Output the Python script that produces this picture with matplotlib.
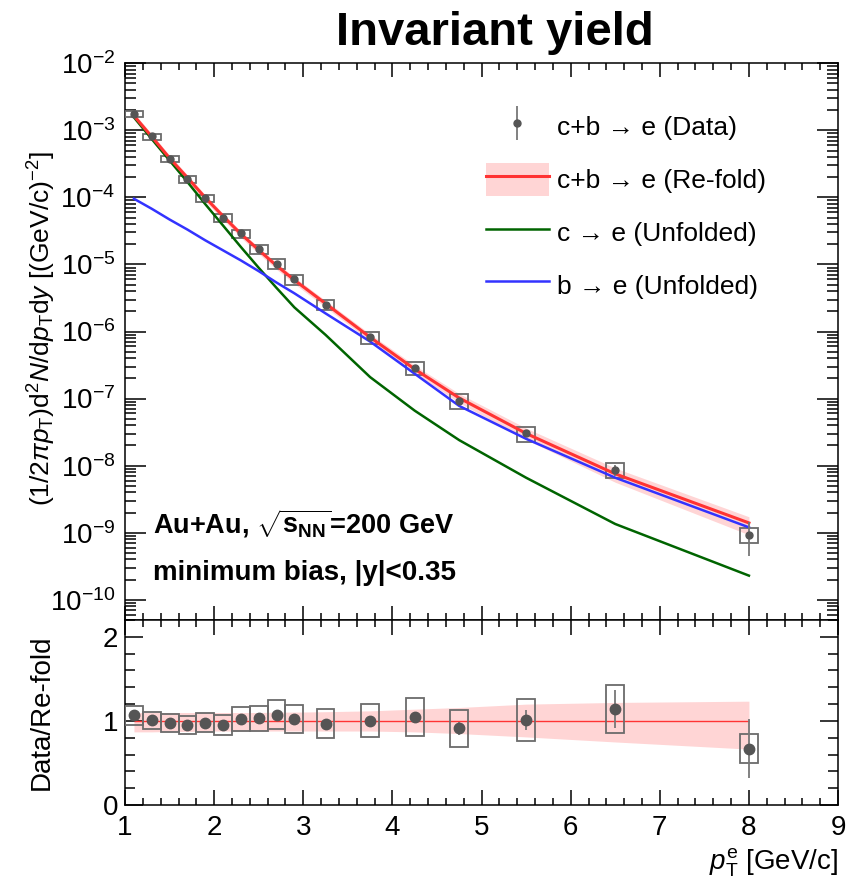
import numpy as np
import matplotlib
matplotlib.use("Agg")
import matplotlib.pyplot as plt
from matplotlib.patches import Patch
from matplotlib.lines import Line2D
from matplotlib.legend_handler import HandlerErrorbar
from matplotlib.ticker import LogLocator, FixedLocator, MultipleLocator, NullFormatter

plt.rcParams['font.family'] = ['Liberation Sans', 'DejaVu Sans']
plt.rcParams['mathtext.fontset'] = 'custom'
plt.rcParams['mathtext.rm'] = 'Liberation Sans'
plt.rcParams['mathtext.it'] = 'Liberation Sans:italic'
plt.rcParams['mathtext.bf'] = 'Liberation Sans:bold'

# pT bin centres (GeV/c)
pt = np.array([1.1, 1.3, 1.5, 1.7, 1.9, 2.1, 2.3, 2.5, 2.7, 2.9,
               3.25, 3.75, 4.25, 4.75, 5.5, 6.5, 8.0])

# c+b -> e data (invariant yield)
data = np.array([1.76e-3, 8.1e-4, 3.77e-4, 1.87e-4, 9.7e-5, 4.99e-5, 2.91e-5,
                 1.69e-5, 1.03e-5, 6.0e-6, 2.52e-6, 8.24e-7, 2.87e-7, 9.3e-8,
                 3.05e-8, 8.63e-9, 9.4e-10])
# relative stat. and syst. uncertainties
stat = np.array([0.02, 0.02, 0.02, 0.02, 0.02, 0.02, 0.02, 0.02, 0.02, 0.02,
                 0.03, 0.03, 0.03, 0.085, 0.118, 0.20, 0.52])
syst = np.array([0.105, 0.10, 0.107, 0.115, 0.117, 0.13, 0.138, 0.148, 0.159,
                 0.164, 0.178, 0.197, 0.218, 0.24, 0.25, 0.25, 0.25])

# re-folded c+b -> e and its band (relative)
refold = np.array([1.65e-3, 8.02e-4, 3.85e-4, 1.97e-4, 9.92e-5, 5.25e-5, 2.85e-5,
                   1.64e-5, 9.6e-6, 5.85e-6, 2.61e-6, 8.2e-7, 2.75e-7, 1.02e-7,
                   3.02e-8, 7.54e-9, 1.40e-9])
band_hi = np.array([1.10, 1.10, 1.10, 1.10, 1.10, 1.10, 1.10, 1.10, 1.105, 1.105,
                    1.11, 1.12, 1.14, 1.16, 1.20, 1.22, 1.235])
band_lo = np.array([0.87, 0.87, 0.875, 0.875, 0.88, 0.88, 0.88, 0.88, 0.88, 0.88,
                    0.88, 0.88, 0.87, 0.85, 0.81, 0.75, 0.665])

# unfolded c -> e and b -> e (log10 of yield)
log_c = np.array([-2.806, -3.13, -3.45, -3.77, -4.10, -4.42, -4.74, -5.05, -5.35,
                  -5.64, -6.05, -6.68, -7.18, -7.62, -8.18, -8.87, -9.64])
log_b = np.array([-4.02, -4.17, -4.33, -4.48, -4.64, -4.79, -4.94, -5.10, -5.27,
                  -5.43, -5.73, -6.15, -6.63, -7.11, -7.60, -8.18, -8.92])

decades = 10.0 ** np.arange(-10, -1)

ratio = data / refold

RED = '#ff3333'
GREEN = '#006400'
BLUE = '#3333ff'
PINK = '#ffd5d5'
GREY = '#555555'
BOXC = '#6b6b6b'

fig = plt.figure(figsize=(8.57, 8.80), dpi=100)
ax1 = fig.add_axes([0.1459, 0.2955, 0.8320, 0.6326])
ax2 = fig.add_axes([0.1459, 0.0852, 0.8320, 0.2102])

# ---- top panel
ax1.fill_between(pt, refold * band_lo, refold * band_hi, color=PINK, lw=0, zorder=1)
ax1.bar(pt, data * 2 * syst, bottom=data * (1 - syst), width=0.2, fill=False,
        edgecolor=BOXC, linewidth=1.3, zorder=3)
ax1.plot(pt, 10 ** log_c, color=GREEN, lw=1.8, zorder=4)
ax1.plot(pt, 10 ** log_b, color=BLUE, lw=1.8, zorder=4)
ax1.plot(pt, refold, color=RED, lw=2.2, zorder=4)
eb = ax1.errorbar(pt, data, yerr=data * stat, fmt='o', ms=5, color=GREY,
                  ecolor='#777777', elinewidth=1.3, capsize=0, zorder=6)

ax1.set_yscale('log')
ax1.set_xlim(1, 9)
ax1.set_ylim(5e-11, 1e-2)
ax1.yaxis.set_major_locator(FixedLocator(decades))
ax1.yaxis.set_minor_locator(LogLocator(base=10, subs=np.arange(2, 10), numticks=20))
ax1.yaxis.set_minor_formatter(NullFormatter())
ax1.xaxis.set_major_locator(MultipleLocator(1))
ax1.xaxis.set_minor_locator(MultipleLocator(0.2))
ax1.tick_params(axis='both', which='both', direction='in', top=True, right=True,
                labelbottom=False, labelsize=20, width=1.1)
ax1.tick_params(axis='y', which='major', length=15, pad=7)
ax1.tick_params(axis='y', which='minor', length=8)
ax1.tick_params(axis='x', which='major', length=10)
ax1.tick_params(axis='x', which='minor', length=5)

handles = [eb, (Patch(facecolor=PINK, edgecolor='none'), Line2D([], [], color=RED, lw=2.2)),
           Line2D([], [], color=GREEN, lw=1.8), Line2D([], [], color=BLUE, lw=1.8)]
labels = ['c+b \u2192 e (Data)', 'c+b \u2192 e (Re-fold)',
          'c \u2192 e (Unfolded)', 'b \u2192 e (Unfolded)']
ax1.legend(handles, labels, loc='upper left', bbox_to_anchor=(0.506, 0.915),
           frameon=False, fontsize=19, borderpad=0, borderaxespad=0,
           handlelength=2.4, handleheight=1.5, handletextpad=0.3, labelspacing=0.78,
           handler_map={type(eb): HandlerErrorbar(xerr_size=0.66)})

ax1.text(0.0397, 0.156, r'Au+Au, $\mathbf{\sqrt{s_{NN}}}$=200 GeV', transform=ax1.transAxes,
         fontsize=19.5, fontweight='bold', va='baseline')
ax1.text(0.0397, 0.072, 'minimum bias, |y|<0.35', transform=ax1.transAxes,
         fontsize=20, fontweight='bold', va='baseline')

# ---- ratio panel
ax2.fill_between(pt, band_lo, band_hi, color=PINK, lw=0, zorder=1)
ax2.hlines(1, pt[0], pt[-1], color=RED, lw=1.0, zorder=2)
ax2.bar(pt, ratio * 2 * syst, bottom=ratio * (1 - syst), width=0.2, fill=False,
        edgecolor=BOXC, linewidth=1.3, zorder=3)
ax2.errorbar(pt, ratio, yerr=ratio * stat, fmt='o', ms=7.5, color=GREY,
             ecolor='#777777', elinewidth=1.3, capsize=0, zorder=6)
ax2.set_xlim(1, 9)
ax2.set_ylim(0, 2.2)
ax2.xaxis.set_major_locator(MultipleLocator(1))
ax2.xaxis.set_minor_locator(MultipleLocator(0.2))
ax2.yaxis.set_major_locator(MultipleLocator(1))
ax2.yaxis.set_minor_locator(MultipleLocator(0.2))
ax2.tick_params(axis='both', which='both', direction='in', top=True, right=True,
                labelsize=20, width=1.1)
ax2.tick_params(axis='y', which='major', length=13, pad=5)
ax2.tick_params(axis='y', which='minor', length=7)
ax2.tick_params(axis='x', which='major', length=11, pad=7)
ax2.tick_params(axis='x', which='minor', length=5)

for ax in (ax1, ax2):
    for s in ax.spines.values():
        s.set_linewidth(1.1)

fig.text(0.577, 0.949, 'Invariant yield', fontsize=34, fontweight='bold',
         ha='center', va='baseline')
fig.text(0.049, 0.627, r'$(1/2\pi p_{\rm T}){\rm d}^{2}N/{\rm d}p_{\rm T}{\rm d}y$ [(GeV/c)$^{-2}$]',
         rotation=90, fontsize=19, ha='center', va='center')
fig.text(0.049, 0.191, 'Data/Re-fold', rotation=90, fontsize=20, ha='center', va='center')
fig.text(0.978, 0.020, r'$p_{\rm T}^{\rm e}$ [GeV/c]', fontsize=20, ha='right', va='center')

fig.savefig('out.png', dpi=100)
